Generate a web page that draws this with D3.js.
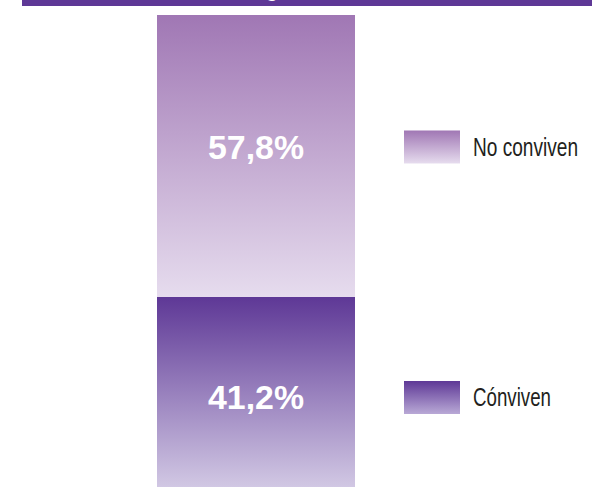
<!DOCTYPE html>
<html><head><meta charset="utf-8">
<script src="https://cdn.jsdelivr.net/npm/d3@7"></script>
<style>html,body{margin:0;padding:0;background:#fff;overflow:hidden}svg{display:block}</style>
</head><body>
<svg id="c" width="592" height="487"></svg>
<script>
const categories = ["Total"];
const seriesNames = ["Cónviven", "No conviven"];
const seriesValues = [41.2, 57.8];
const valueLabels = ["41,2%", "57,8%"];
const titleText = "g";

const svg = d3.select("#c");
const W = 592, H = 487;
const total = d3.sum(seriesValues);
const FONT = "Liberation Sans, Arial, sans-serif";

const x = d3.scaleBand().domain(categories).range([157, 355]).padding(0);
const y = d3.scaleLinear().domain([0, total]).range([498, 15]);

const gradStops = [
  ["#5e3896", "#d8d0e8"],
  ["#a077b4", "#e6dcee"]
];
const legStops = [
  ["#5e3896", "#b9a9d6"],
  ["#a077b4", "#e6dcee"]
];
const defs = svg.append("defs");
function grad(id, c) {
  const g = defs.append("linearGradient").attr("id", id).attr("x1", 0).attr("y1", 0).attr("x2", 0).attr("y2", 1);
  g.append("stop").attr("offset", "0%").attr("stop-color", c[0]);
  g.append("stop").attr("offset", "100%").attr("stop-color", c[1]);
}
gradStops.forEach((c, i) => grad("bar" + i, c));
legStops.forEach((c, i) => grad("leg" + i, c));

// title banner (title text mostly above the visible area)
svg.append("rect").attr("x", 22).attr("y", 0).attr("width", W - 22).attr("height", 6).attr("fill", "#5e3896");
svg.append("text").attr("x", 272).attr("y", -3).attr("text-anchor", "middle")
  .attr("font-family", FONT).attr("font-weight", "bold")
  .attr("font-size", 20).attr("fill", "#fff").text(titleText);

// stacked data
let acc = 0;
const stacked = seriesValues.map((v, i) => { const s = { i, y0: acc, y1: acc + v, v }; acc += v; return s; });

svg.selectAll("rect.seg").data(stacked).enter().append("rect").attr("class", "seg")
  .attr("x", x(categories[0])).attr("width", x.bandwidth())
  .attr("y", d => y(d.y1)).attr("height", d => y(d.y0) - y(d.y1))
  .attr("fill", d => `url(#bar${d.i})`);

const labelOffset = [0, -9];
const cx = x(categories[0]) + x.bandwidth() / 2;
svg.selectAll("text.lab").data(stacked).enter().append("text").attr("class", "lab")
  .attr("x", cx - 48)
  .attr("y", d => (y(d.y0) + y(d.y1)) / 2 + labelOffset[d.i] + 12)
  .attr("textLength", 96).attr("lengthAdjust", "spacingAndGlyphs")
  .attr("font-family", FONT)
  .attr("font-weight", "bold").attr("font-size", 33).attr("fill", "#fff")
  .text(d => valueLabels[d.i]);

// legend
const legTextLen = [78, 105];
const leg = svg.selectAll("g.leg").data(stacked).enter().append("g").attr("class", "leg")
  .attr("transform", d => `translate(404, ${(y(d.y0) + y(d.y1)) / 2 + labelOffset[d.i]})`);
leg.append("rect").attr("x", 0).attr("y", -16.5).attr("width", 56).attr("height", 33)
  .attr("fill", d => `url(#leg${d.i})`);
leg.append("text").attr("x", 69).attr("y", 9)
  .attr("textLength", d => legTextLen[d.i]).attr("lengthAdjust", "spacingAndGlyphs")
  .attr("font-family", FONT)
  .attr("font-size", 25).attr("fill", "#231f20")
  .text(d => seriesNames[d.i]);
</script>
</body></html>
